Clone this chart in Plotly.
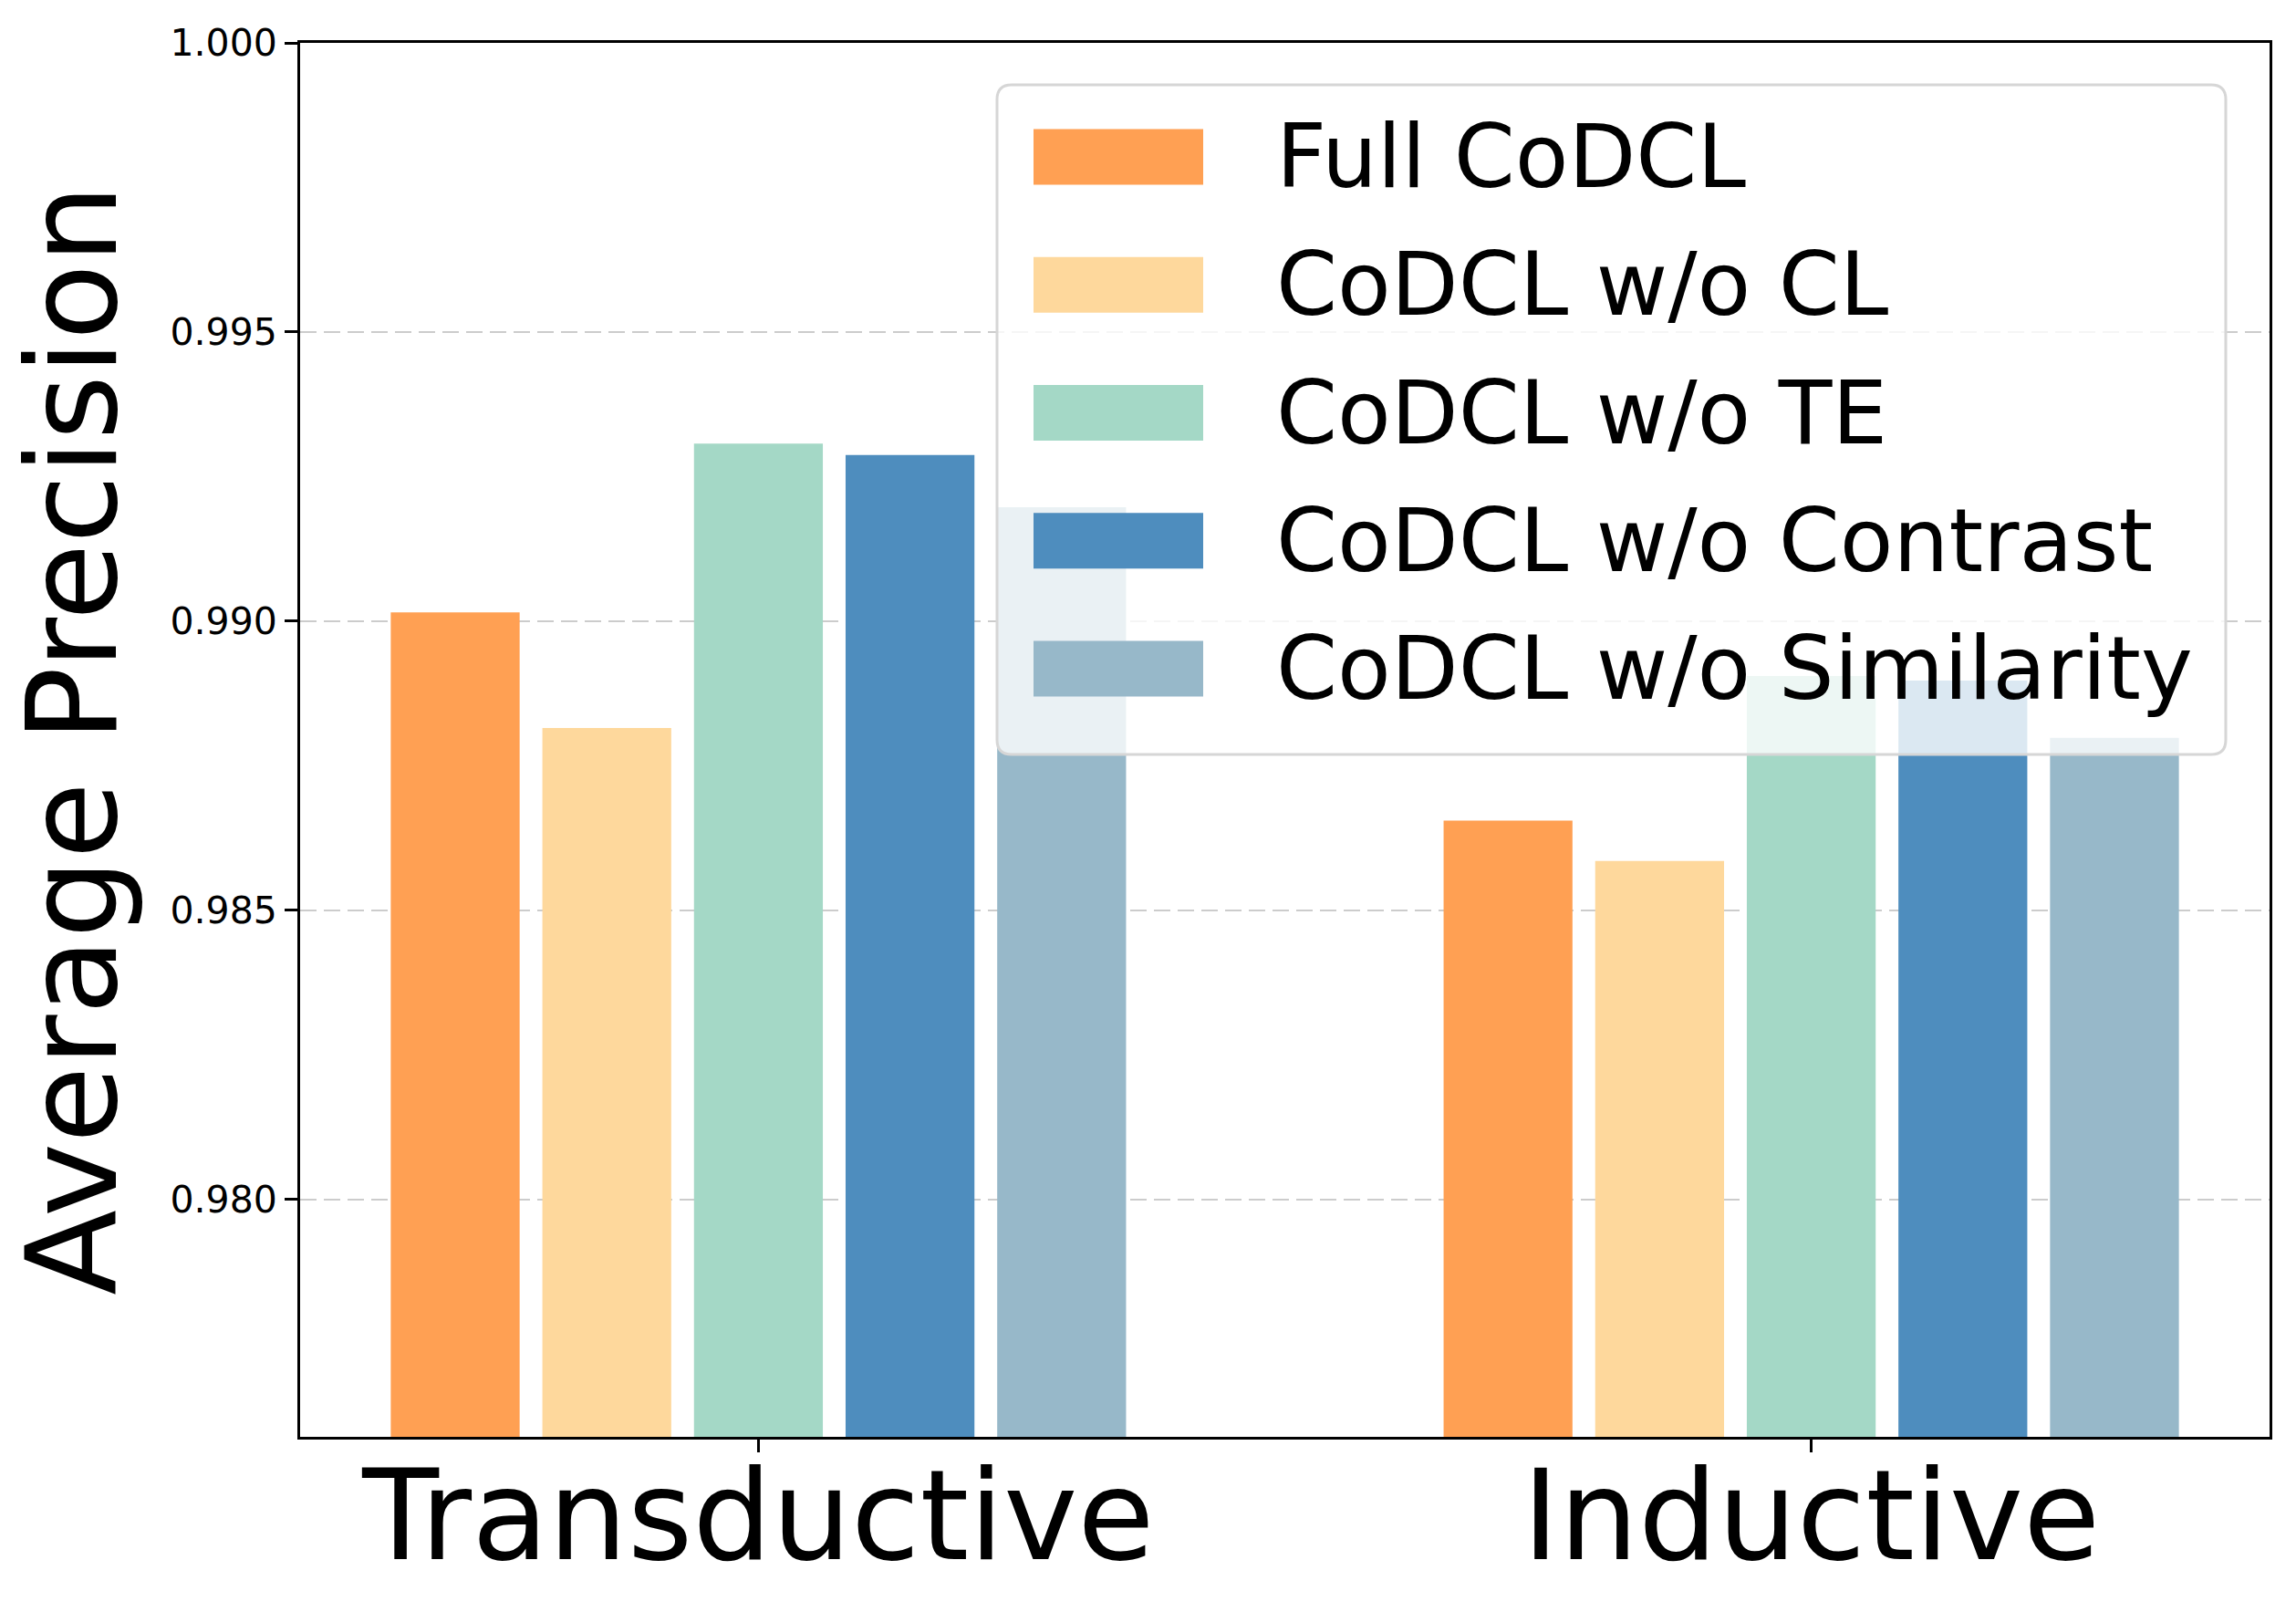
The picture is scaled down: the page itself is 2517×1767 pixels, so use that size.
import plotly.graph_objects as go

# ---------------- data ----------------
categories = ["Transductive", "Inductive"]
series_names = ["Full CoDCL", "CoDCL w/o CL", "CoDCL w/o TE", "CoDCL w/o Contrast", "CoDCL w/o Similarity"]
transductive = [0.99015, 0.98815, 0.99307, 0.99287, 0.99197]
inductive = [0.98655, 0.98585, 0.98905, 0.98897, 0.98798]
colors = ["#FFA053", "#FED89C", "#A4D8C6", "#4E8DBE", "#97B8C9"]
y_ticks = [0.980, 0.985, 0.990, 0.995, 1.000]
y_tick_labels = ["0.980", "0.985", "0.990", "0.995", "1.000"]

# ---------------- layout constants ----------------
W, H = 2517, 1767
ML, MR, MT, MB = 329, 29, 47, 192
PW, PH = W - ML - MR, H - MT - MB
FONT = "DejaVu Sans"


def px_x(x):
    return (x - ML) / PW


def px_y(y):
    return 1 - (y - MT) / PH


fig = go.Figure()
for i, name in enumerate(series_names):
    fig.add_trace(go.Bar(
        x=categories,
        y=[transductive[i], inductive[i]],
        name=name,
        marker=dict(color=colors[i], line=dict(width=0)),
        showlegend=False,
    ))

fig.update_layout(
    width=W, height=H,
    margin=dict(l=ML, r=MR, t=MT, b=MB, pad=0),
    paper_bgcolor="white", plot_bgcolor="white",
    barmode="group", bargap=0.28, bargroupgap=0.15,
    font=dict(family=FONT, color="black"),
    showlegend=False,
)

fig.update_xaxes(
    type="category", range=[-0.4353, 1.4353],
    showline=True, mirror=True, linecolor="black", linewidth=3,
    ticks="outside", ticklen=14, tickwidth=3, tickcolor="black",
    tickfont=dict(family=FONT, size=137, color="black"),
    ticklabelstandoff=-47,
    showgrid=False, zeroline=False, automargin=False,
)
fig.update_yaxes(
    range=[0.97589, 1.0],
    tickvals=y_ticks, ticktext=y_tick_labels,
    showline=True, mirror=True, linecolor="black", linewidth=3,
    ticks="outside", ticklen=14, tickwidth=3, tickcolor="black",
    tickfont=dict(family=FONT, size=41, color="black"),
    showgrid=True, gridcolor="#cccccc", gridwidth=2, griddash="18px,8px",
    zeroline=False,
    title=dict(text="Average Precision", font=dict(family=FONT, size=137, color="black"), standoff=15),
    automargin=True,
)

# ---------------- legend (drawn as layout shapes/annotations) ----------------
bx0, bx1, by0, by1, rad = 1093, 2440, 93, 827, 16
rx, ry = rad / PW, rad / PH
X0, X1, Y0, Y1 = px_x(bx0), px_x(bx1), px_y(by1), px_y(by0)
path = (
    f"M {X0 + rx},{Y1} L {X1 - rx},{Y1} Q {X1},{Y1} {X1},{Y1 - ry} "
    f"L {X1},{Y0 + ry} Q {X1},{Y0} {X1 - rx},{Y0} "
    f"L {X0 + rx},{Y0} Q {X0},{Y0} {X0},{Y0 + ry} "
    f"L {X0},{Y1 - ry} Q {X0},{Y1} {X0 + rx},{Y1} Z"
)
fig.add_shape(type="path", path=path, xref="paper", yref="paper",
              fillcolor="rgba(255,255,255,0.8)", line=dict(color="#d6d6d6", width=3), layer="above")

row_y0, row_step, sw_h = 172, 140.25, 61
sw_x0, sw_x1, text_x = 1133, 1319, 1397
for i, name in enumerate(series_names):
    cy = row_y0 + i * row_step
    fig.add_shape(type="rect", xref="paper", yref="paper",
                  x0=px_x(sw_x0), x1=px_x(sw_x1), y0=px_y(cy + sw_h / 2), y1=px_y(cy - sw_h / 2),
                  fillcolor=colors[i], line=dict(width=0), layer="above")
    fig.add_annotation(text=name, xref="paper", yref="paper",
                       x=px_x(text_x), y=px_y(cy), xanchor="left", yanchor="middle",
                       showarrow=False, font=dict(family=FONT, size=96, color="black"))

fig.write_html("out.html", config={"displayModeBar": False},
               post_script="document.body.style.margin='0';")
